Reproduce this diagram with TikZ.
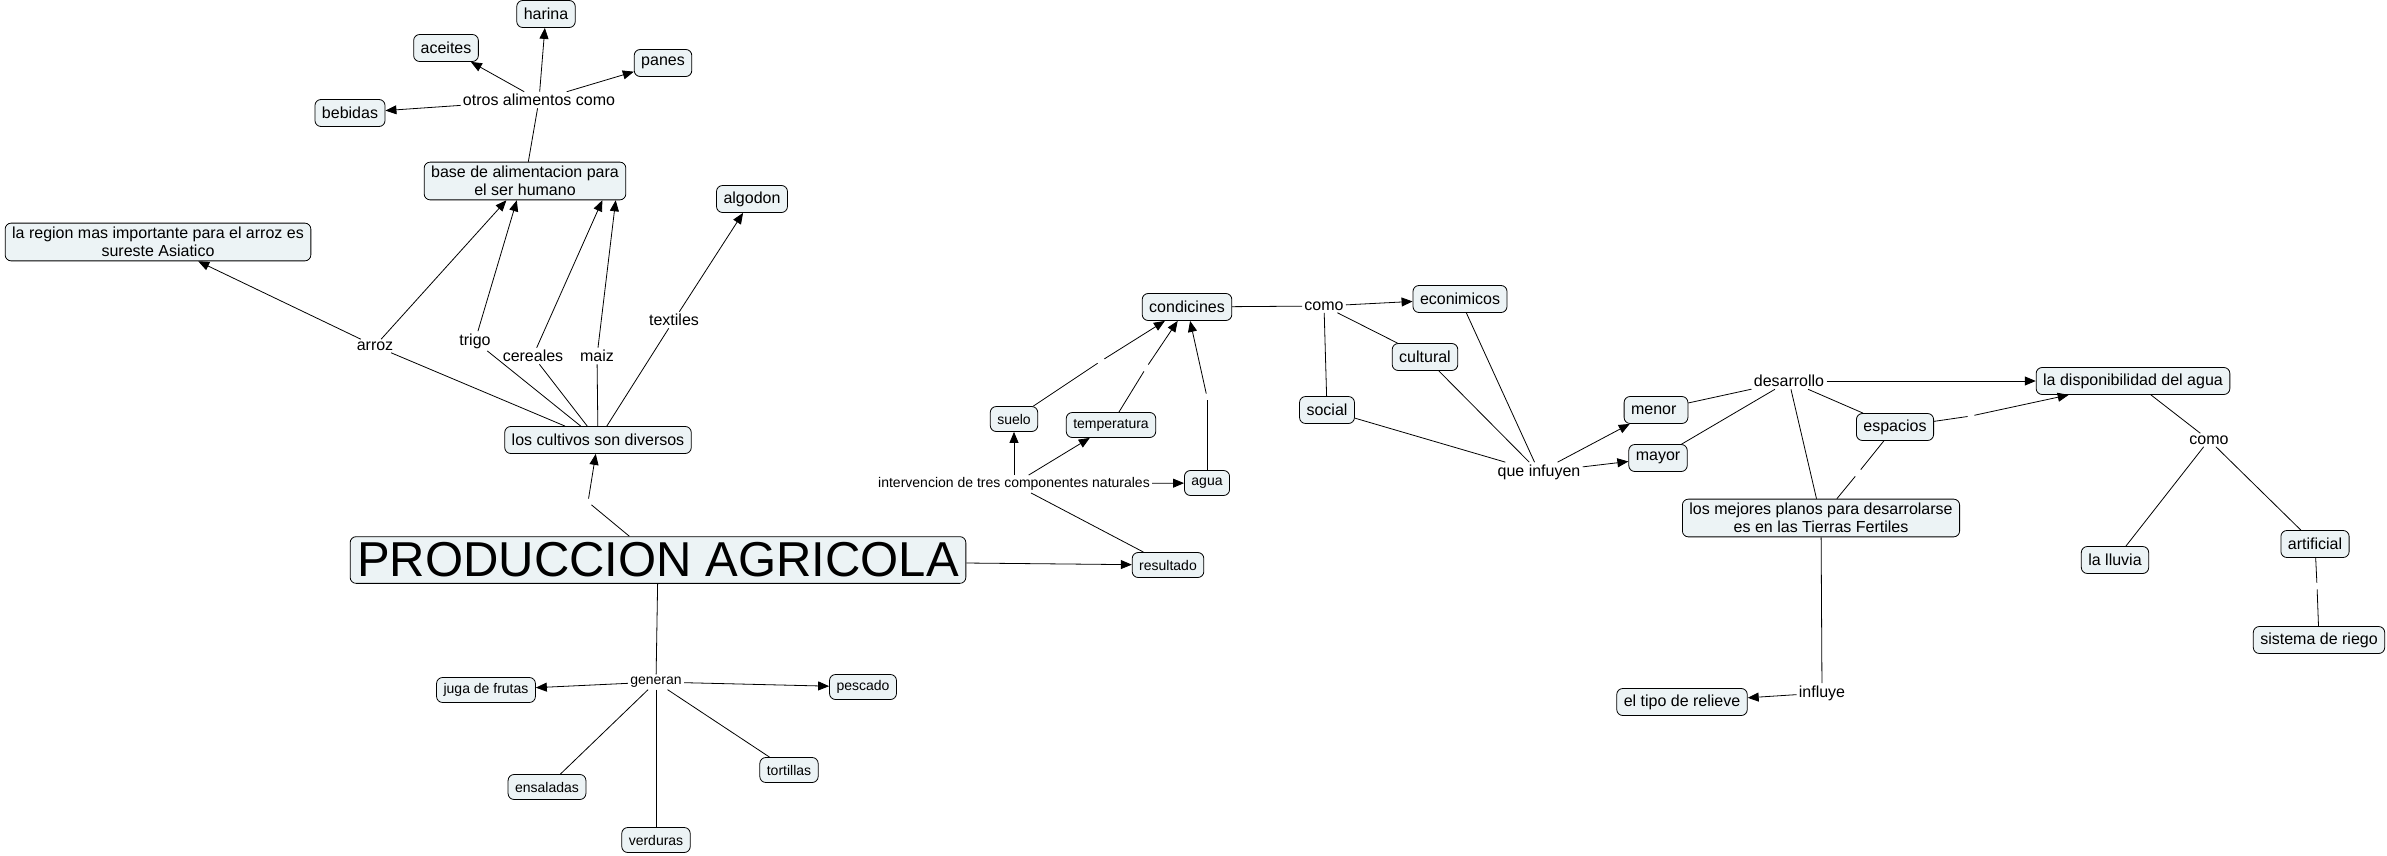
\documentclass[tikz,border=0pt]{standalone}
\usepackage{fontspec}
\setmainfont{Liberation Sans}
\usetikzlibrary{arrows.meta}
\definecolor{cmapfill}{RGB}{236,243,245}

\begin{document}
\begin{tikzpicture}[x=1pt, y=-1pt, line width=0.8pt,
    concept/.style={draw, rounded corners=6pt, fill=cmapfill, inner xsep=7pt, inner ysep=4pt,
        align=center, minimum height=27pt, font=\fontsize{16}{18}\selectfont},
    small/.style={concept, minimum height=25pt, font=\fontsize{14}{16}\selectfont},
    linkword/.style={inner sep=2pt, font=\fontsize{16}{18}\selectfont},
    smalllink/.style={inner sep=2pt, font=\fontsize{14}{16}\selectfont},
    blank/.style={inner sep=3pt},
    link/.style={-{Triangle[length=11pt,width=9pt]}}]
    \useasboundingbox (0,0) rectangle (2387,856);

    % left part
    \node[concept, font=\fontsize{49}{54}\selectfont, inner ysep=6pt] (prod) at (658,560) {PRODUCCION AGRICOLA};
    \node[concept] (cultivos) at (598,440) {los cultivos son diversos};
    \node[concept] (base) at (525,181) {base de alimentacion para\\el ser humano};
    \node[concept] (region) at (158,242) {la region mas importante para el arroz es\\sureste Asiatico};
    \node[concept] (algodon) at (752,199) {algodon};
    \node[concept] (harina) at (546,14) {harina};
    \node[concept] (aceites) at (446,48) {aceites};
    \node[concept] (panes) at (663,63) {panes};
    \node[concept] (bebidas) at (350,113) {bebidas};
    \node[small] (juga) at (486,690) {juga de frutas};
    \node[small] (pescado) at (863,687) {pescado};
    \node[small] (ensaladas) at (547,787) {ensaladas};
    \node[small] (tortillas) at (789,770) {tortillas};
    \node[small] (verduras) at (656,840) {verduras};

    \node[blank] (b1) at (588,502) {};
    \node[linkword] (arroz) at (375,346) {arroz};
    \node[linkword] (trigo) at (475,341) {trigo};
    \node[linkword] (cereales) at (533,356) {cereales};
    \node[linkword] (maiz) at (597,356) {maiz};
    \node[linkword] (textiles) at (674,320) {textiles};
    \node[linkword] (otros) at (539,100) {otros alimentos como};
    \node[smalllink] (generan) at (656,682) {generan};

    \draw (prod) -- (b1);
    \draw[link] (b1) -- (cultivos);
    \draw (cultivos) -- (arroz);
    \draw[link] (arroz) -- (region);
    \draw[link] (arroz) -- (base.-134);
    \draw (cultivos) -- (trigo);
    \draw[link] (trigo) -- (base.-113);
    \draw (cultivos) -- (cereales);
    \draw[link] (cereales) -- (base.-14);
    \draw (cultivos) -- (maiz);
    \draw[link] (maiz) -- (base.-12);
    \draw (cultivos) -- (textiles);
    \draw[link] (textiles) -- (algodon);
    \draw (base) -- (otros);
    \draw[link] (otros) -- (harina);
    \draw[link] (otros) -- (aceites);
    \draw[link] (otros) -- (panes);
    \draw[link] (otros) -- (bebidas);
    \draw (prod) -- (generan);
    \draw[link] (generan) -- (juga);
    \draw[link] (generan) -- (pescado);
    \draw (generan) -- (ensaladas);
    \draw (generan) -- (tortillas);
    \draw (generan) -- (verduras);

    % middle part
    \node[small] (resultado) at (1168,565) {resultado};
    \node[small] (suelo) at (1014,419) {suelo};
    \node[small] (temp) at (1111,425) {temperatura};
    \node[small] (agua) at (1207,483) {agua};
    \node[concept] (cond) at (1187,307) {condicines};
    \node[concept] (econ) at (1460,299) {econimicos};
    \node[concept] (cultural) at (1425,357) {cultural};
    \node[concept] (social) at (1327,410) {social};
    \node[concept] (menor) at (1656,410) {menor };
    \node[concept] (mayor) at (1658,458) {mayor};

    \node[smalllink] (interv) at (1014,484) {intervencion de tres componentes naturales};
    \node[blank] (b2) at (1101,361) {};
    \node[blank] (b3) at (1146,368) {};
    \node[blank] (b4) at (1207,397) {};
    \node[linkword] (como) at (1324,306) {como};
    \node[linkword] (infuyen) at (1539,472) {que infuyen};

    \draw[link] (prod) -- (resultado);
    \draw (resultado) -- (interv);
    \draw[link] (interv) -- (suelo);
    \draw[link] (interv) -- (temp);
    \draw[link] (interv) -- (agua);
    \draw (suelo) -- (b2);
    \draw[link] (b2) -- (cond);
    \draw (temp) -- (b3);
    \draw[link] (b3) -- (cond);
    \draw (agua) -- (b4);
    \draw[link] (b4) -- (cond);
    \draw (cond) -- (como);
    \draw[link] (como) -- (econ);
    \draw (como) -- (cultural);
    \draw (como) -- (social);
    \draw (social) -- (infuyen);
    \draw (cultural) -- (infuyen);
    \draw (econ) -- (infuyen);
    \draw[link] (infuyen) -- (menor);
    \draw[link] (infuyen) -- (mayor);

    % right part
    \node[concept] (disp) at (2133,381) {la disponibilidad del agua};
    \node[concept] (espacios) at (1895,427) {espacios};
    \node[concept] (mejores) at (1821,518) {los mejores planos para desarrolarse\\es en las Tierras Fertiles};
    \node[concept] (lluvia) at (2115,560) {la lluvia};
    \node[concept] (artificial) at (2315,544) {artificial};
    \node[concept] (riego) at (2319,640) {sistema de riego};
    \node[concept] (relieve) at (1682,702) {el tipo de relieve};

    \node[linkword] (desarrollo) at (1789,381) {desarrollo};
    \node[blank] (b5) at (1971,416) {};
    \node[blank] (b6) at (1858,473) {};
    \node[linkword] (como2) at (2209,440) {como};
    \node[blank] (b7) at (2317,586) {};
    \node[linkword] (influye) at (1822,693) {influye};

    \draw (menor) -- (desarrollo);
    \draw (mayor) -- (desarrollo);
    \draw[link] (desarrollo) -- (disp);
    \draw (desarrollo) -- (espacios);
    \draw (desarrollo) -- (mejores);
    \draw (espacios) -- (b5);
    \draw[link] (b5) -- (disp);
    \draw (espacios) -- (b6);
    \draw (b6) -- (mejores);
    \draw (mejores) -- (influye);
    \draw[link] (influye) -- (relieve);
    \draw (disp) -- (como2);
    \draw (como2) -- (lluvia);
    \draw (como2) -- (artificial);
    \draw (artificial) -- (b7);
    \draw (b7) -- (riego);
\end{tikzpicture}
\end{document}
